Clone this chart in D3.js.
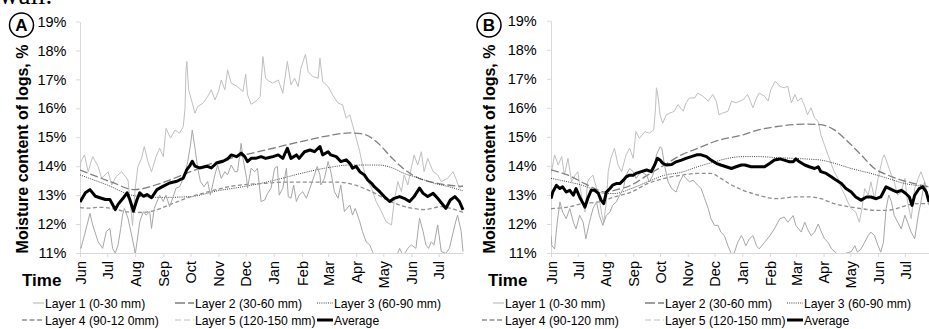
<!DOCTYPE html>
<html><head><meta charset="utf-8">
<script src="https://cdn.jsdelivr.net/npm/d3@7/dist/d3.min.js"></script>
<style>
body{margin:0;background:#fff;overflow:hidden;}
text{font-family:"Liberation Sans",Arial,sans-serif;fill:#000;}
</style></head><body>
<svg id="chart" width="929" height="329"></svg>
<script>
// ---------- DATA ----------
// Each series: [days since 1 June (year 1), moisture content %]
const startDate = new Date(2015, 5, 1);
const endDay = 423;
const yTicks = [11, 12, 13, 14, 15, 16, 17, 18, 19];
const seriesKeys = ["l1", "l2", "l3", "l4", "l5", "avg"];
const legendA = ["Layer 1 (0-30 mm)", "Layer 2 (30-60 mm)", "Layer 3 (60-90 mm)", "Layer 4 (90-12 0mm)", "Layer 5 (120-150 mm)", "Average"];
const legendB = ["Layer 1 (0-30 mm)", "Layer 2 (30-60 mm)", "Layer 3 (60-90 mm)", "Layer 4 (90-120 mm)", "Layer 5 (120-150 mm)", "Average"];
const panelLabels = ["A", "B"];
const yTitle = "Moisture content of logs, %";
const xTitle = "Time";

// Panel A
const a_layer1 = [[0,13.9],[1,14.16],[5,14.39],[9,13.81],[14,14.33],[20,13.99],[24,13.58],[31,13.81],[35,13.35],[40,13.64],[46,13.81],[53,13.52],[58,11.95],[61,13.24],[64,13.99],[68,14.27],[71,14.68],[75,14.16],[79,13.81],[84,14.33],[88,14.62],[92,14.33],[95,15.31],[100,14.97],[105,15.25],[110,15.14],[114,15.37],[116,16.0],[117,17.27],[118,17.62],[120,16.64],[124,16.18],[127,15.83],[130,16.06],[136,16.18],[141,16.41],[145,16.64],[149,16.29],[153,16.58],[156,16.98],[160,16.64],[163,17.33],[167,16.87],[174,16.75],[180,16.58],[183,17.18],[185,16.47],[189,16.14],[196,16.29],[199,16.41],[202,17.79],[205,17.04],[209,16.93],[213,16.87],[219,16.98],[224,16.52],[229,17.62],[233,16.81],[237,17.04],[241,16.75],[244,17.39],[249,17.87],[252,17.27],[257,17.1],[263,17.04],[265,17.73],[268,16.93],[274,16.75],[279,16.46],[285,16.18],[290,16.12],[294,15.66],[298,15.77],[301,15.43],[305,14.97],[309,14.5],[312,14.04],[316,13.58],[322,13.24],[327,12.78],[333,12.43],[338,12.08],[344,11.97],[347,12.78],[351,13.47],[355,13.12],[358,13.7],[362,13.35],[369,14.39],[373,14.04],[377,14.5],[380,13.81],[384,14.27],[390,13.81],[395,13.7],[399,13.47],[406,13.58],[412,13.81],[415,13.58],[419,13.24],[423,13.35]];
const a_layer2 = [[0,13.87],[35,13.45],[60,13.19],[89,13.41],[122,13.81],[152,14.16],[182,14.39],[213,14.62],[244,14.85],[274,15.05],[298,15.15],[314,15.1],[329,14.8],[344,14.3],[358,13.9],[373,13.6],[391,13.43],[406,13.35],[423,13.3]];
const a_layer3 = [[0,13.7],[30,13.35],[60,12.98],[90,12.92],[122,12.95],[152,13.15],[182,13.3],[213,13.5],[244,13.75],[274,13.95],[298,14.04],[329,14.04],[344,13.95],[358,13.75],[373,13.6],[391,13.41],[406,13.3],[423,13.15]];
const a_layer4 = [[0,12.57],[10,12.55],[22,12.58],[39,12.52],[52,12.42],[70,12.4],[85,12.5],[100,12.68],[118,12.9],[140,13.1],[166,13.3],[200,13.4],[230,13.45],[260,13.45],[285,13.45],[300,13.38],[320,13.15],[345,12.75],[366,12.55],[380,12.5],[399,12.6],[414,12.5],[423,12.4]];
const a_layer5 = [[0,11.2],[1,11.16],[5,11.62],[11,12.37],[14,11.97],[20,11.39],[25,11.16],[29,11.74],[33,11.85],[36,11.16],[39,10.99],[42,11.28],[45,11.85],[47,12.31],[49,12.54],[53,12.2],[57,11.62],[60,11.16],[61,10.95],[63,11.39],[66,12.08],[70,12.43],[73,12.31],[77,12.43],[79,11.85],[82,12.54],[88,13.0],[92,12.78],[95,13.0],[99,12.6],[103,12.95],[106,13.24],[110,13.29],[116,13.7],[119,14.16],[122,14.73],[124,15.25],[127,14.62],[130,13.93],[133,13.47],[137,13.29],[141,13.47],[144,13.0],[149,13.7],[152,14.04],[156,13.58],[160,13.81],[163,13.7],[167,14.04],[171,13.81],[174,13.81],[178,14.79],[180,14.27],[184,13.58],[185,13.24],[189,13.93],[193,13.81],[196,13.93],[200,12.78],[204,12.83],[207,13.05],[211,13.24],[215,13.93],[218,13.99],[220,13.0],[224,13.24],[228,13.93],[230,12.95],[233,12.89],[236,13.35],[239,12.78],[242,13.0],[246,13.12],[250,12.89],[254,13.24],[259,13.7],[262,13.99],[265,13.7],[266,13.35],[270,13.58],[274,14.16],[277,13.81],[281,13.12],[285,12.89],[288,13.35],[292,12.43],[298,12.66],[301,12.31],[304,12.54],[309,12.08],[312,11.74],[316,11.39],[320,11.28],[323,11.05],[327,10.8],[340,10.7],[349,10.85],[353,11.16],[357,10.9],[362,11.16],[366,11.28],[371,11.16],[375,12.2],[379,11.74],[382,11.28],[385,11.16],[388,11.39],[391,11.28],[395,11.97],[399,11.05],[404,10.99],[408,11.16],[414,11.97],[417,12.31],[421,11.74],[423,11.05]];
const a_average = [[0,12.76],[6,13.08],[11,13.19],[17,12.96],[22,12.91],[28,12.85],[33,12.85],[39,12.5],[42,12.68],[48,12.91],[52,13.08],[55,12.85],[59,12.45],[63,12.85],[66,13.08],[70,12.96],[74,13.02],[79,12.91],[85,13.19],[92,13.31],[99,13.42],[107,13.48],[114,13.59],[118,13.88],[121,14.0],[124,14.17],[127,14.0],[132,13.94],[140,14.0],[145,13.94],[151,14.11],[158,14.17],[163,14.25],[167,14.39],[173,14.33],[178,14.45],[182,14.33],[185,14.16],[189,14.27],[194,14.27],[200,14.33],[205,14.27],[209,14.3],[213,14.33],[219,14.39],[224,14.27],[229,14.62],[233,14.27],[239,14.39],[242,14.27],[248,14.5],[254,14.56],[259,14.5],[265,14.68],[268,14.39],[274,14.5],[277,14.39],[283,14.33],[288,14.16],[294,14.22],[298,14.1],[301,13.93],[305,13.99],[309,13.81],[314,13.7],[318,13.52],[322,13.41],[325,13.29],[331,13.12],[336,12.95],[342,12.78],[347,12.89],[353,12.95],[358,12.89],[364,12.78],[369,12.95],[375,13.24],[379,13.06],[384,12.95],[390,13.06],[395,12.89],[401,12.66],[404,12.54],[409,12.83],[414,12.95],[419,12.78],[423,12.49]];

// Panel B
const b_layer1 = [[0,13.7],[4,14.38],[8,14.03],[12,14.32],[15,13.68],[19,14.26],[23,13.45],[27,13.68],[30,13.8],[34,13.0],[38,12.41],[41,13.45],[43,13.57],[47,13.68],[51,13.22],[54,12.87],[57,12.3],[59,12.06],[62,12.76],[64,13.8],[67,14.26],[71,14.61],[75,14.03],[79,13.8],[84,14.38],[88,14.61],[92,14.26],[95,15.18],[99,14.95],[105,15.18],[110,15.13],[115,15.24],[117,16.0],[118,16.69],[120,16.34],[122,15.76],[125,15.47],[129,15.76],[133,15.82],[138,15.88],[142,16.11],[148,15.88],[151,16.17],[155,16.34],[161,16.34],[164,16.51],[170,16.4],[176,16.23],[181,16.46],[185,16.23],[188,15.76],[192,15.82],[198,15.88],[202,16.23],[207,16.17],[215,16.28],[220,16.46],[226,16.0],[230,16.34],[233,16.51],[239,16.4],[243,16.23],[246,16.63],[251,16.92],[256,16.74],[261,16.69],[265,16.74],[269,16.17],[273,16.46],[276,16.23],[280,16.34],[284,16.05],[287,15.76],[291,16.0],[295,15.65],[299,15.53],[302,15.07],[306,14.72],[310,14.38],[314,14.03],[317,13.8],[321,13.57],[325,13.22],[329,12.99],[332,12.76],[336,12.53],[341,12.41],[345,12.06],[348,12.53],[351,13.22],[355,12.99],[358,13.45],[362,12.87],[366,13.57],[371,14.26],[373,14.38],[377,14.03],[381,13.68],[384,13.45],[388,12.99],[392,13.1],[396,13.57],[399,12.76],[403,12.18],[407,13.22],[411,13.57],[414,13.8],[418,13.45],[423,12.76]];
const b_layer2 = [[0,13.86],[19,13.68],[34,13.45],[49,13.22],[60,13.1],[71,13.16],[90,13.34],[108,13.68],[127,14.03],[146,14.38],[164,14.6],[183,14.84],[215,15.07],[232,15.24],[254,15.36],[284,15.44],[302,15.42],[317,15.24],[332,14.84],[347,14.38],[362,13.91],[377,13.68],[392,13.51],[407,13.39],[423,13.28]];
const b_layer3 = [[0,13.57],[19,13.45],[34,13.34],[45,13.22],[60,13.05],[71,13.05],[90,13.22],[108,13.45],[127,13.68],[146,13.78],[164,13.97],[183,14.14],[198,14.26],[215,14.32],[232,14.32],[254,14.28],[271,14.26],[284,14.24],[302,14.2],[317,14.09],[336,13.91],[358,13.74],[377,13.57],[396,13.39],[411,13.32],[423,13.28]];
const b_layer4 = [[0,12.53],[19,12.58],[34,12.7],[53,12.76],[71,12.93],[90,13.1],[108,13.39],[127,13.57],[146,13.68],[164,13.74],[179,13.74],[190,13.57],[202,13.34],[215,13.16],[232,12.99],[254,12.87],[271,12.93],[290,12.93],[302,12.87],[317,12.7],[332,12.6],[347,12.53],[362,12.47],[377,12.47],[392,12.58],[407,12.7],[423,12.7]];
const b_layer5 = [[0,11.6],[1,11.25],[4,11.14],[7,12.06],[10,12.76],[13,12.41],[17,12.18],[21,12.53],[25,12.06],[28,11.83],[32,12.3],[36,12.06],[39,11.49],[43,12.06],[47,12.53],[51,12.76],[54,12.3],[58,11.95],[62,12.3],[66,12.41],[69,12.64],[73,12.76],[77,12.99],[81,13.22],[84,13.68],[88,13.91],[92,13.8],[95,13.57],[101,13.8],[107,13.68],[110,13.45],[114,13.68],[118,14.38],[122,14.66],[124,14.61],[127,14.03],[131,13.45],[135,13.22],[140,13.1],[144,13.45],[148,13.68],[151,13.57],[155,13.45],[159,13.51],[164,13.34],[168,13.22],[172,12.87],[176,12.53],[179,12.18],[183,11.95],[187,11.95],[190,11.72],[194,11.6],[198,11.25],[202,10.96],[205,11.0],[209,11.37],[213,11.6],[215,11.49],[218,11.25],[222,11.49],[226,11.6],[230,11.25],[233,11.14],[239,11.37],[245,11.6],[250,11.83],[256,12.18],[261,12.24],[265,12.06],[271,12.29],[274,11.95],[280,11.72],[284,12.06],[287,11.83],[291,11.6],[295,11.72],[299,12.0],[302,11.77],[306,11.49],[310,11.37],[314,11.14],[321,10.95],[329,10.98],[336,11.05],[340,11.25],[343,11.03],[347,11.14],[351,11.37],[355,11.6],[358,11.72],[362,11.6],[366,11.25],[369,11.03],[372,11.37],[375,12.53],[378,13.0],[381,12.76],[384,12.3],[388,12.06],[392,11.83],[396,12.3],[399,12.06],[403,11.72],[407,11.49],[411,12.3],[414,12.76],[418,13.45],[423,12.64]];
const b_average = [[0,12.87],[2,13.1],[6,13.33],[10,13.22],[13,13.28],[17,13.1],[21,13.16],[25,12.99],[28,13.22],[32,12.93],[36,12.7],[38,12.58],[41,12.87],[45,13.16],[49,13.16],[53,13.05],[56,12.82],[59,12.7],[62,13.1],[66,13.22],[69,13.34],[73,13.39],[77,13.39],[81,13.51],[84,13.62],[88,13.68],[92,13.68],[95,13.74],[101,13.8],[107,13.86],[112,13.8],[116,14.03],[119,14.26],[122,14.2],[125,14.09],[129,14.03],[135,14.05],[140,14.14],[146,14.2],[151,14.26],[157,14.32],[163,14.38],[168,14.38],[174,14.32],[179,14.2],[185,14.09],[190,14.03],[196,13.97],[202,13.91],[207,13.97],[213,14.03],[217,14.03],[224,13.97],[232,13.97],[239,13.97],[245,14.09],[250,14.2],[256,14.24],[261,14.2],[267,14.14],[271,14.14],[274,14.24],[278,14.14],[284,14.03],[289,13.97],[295,13.91],[299,13.97],[302,13.8],[308,13.74],[314,13.62],[319,13.51],[325,13.39],[330,13.22],[336,13.1],[341,12.93],[347,12.82],[353,12.93],[358,12.93],[364,12.87],[369,12.93],[375,13.28],[379,13.22],[383,13.16],[387,13.1],[392,13.16],[397,13.05],[401,12.93],[404,12.64],[407,12.99],[412,13.22],[416,13.28],[420,13.1],[423,12.76]];

// ---------- STYLE ----------
const styles = {
  l1:  {color:"#bfbfbf", width:1,   dash:null,    legDash:null,    legLen:10, curve:d3.curveLinear},
  l2:  {color:"#7f7f7f", width:1.3, dash:"8,3",   legDash:"10,3",  legLen:18, curve:d3.curveMonotoneX},
  l3:  {color:"#404040", width:1,   dash:"1,1.2", legDash:"1,1.2", legLen:15, curve:d3.curveMonotoneX},
  l4:  {color:"#8f8f8f", width:1.3, dash:"4,2.5", legDash:"5,2.5", legLen:21, curve:d3.curveMonotoneX},
  l5:  {color:"#a6a6a6", width:1,   dash:null,    legDash:"6,3",   legLen:18, curve:d3.curveLinear},
  avg: {color:"#000000", width:3,   dash:null,    legDash:null,    legLen:15, curve:d3.curveLinear}
};

const panels = [
  {label:panelLabels[0], x0:80,  x1:463, yTop:21.5, yBot:253, pad:9.5, titleX:28,  timeX:22,  circleX:21.5,
   legend:legendA, legendCols:[45,195,334],
   series:{l1:a_layer1,l2:a_layer2,l3:a_layer3,l4:a_layer4,l5:a_layer5,avg:a_average}},
  {label:panelLabels[1], x0:551, x1:929, yTop:20.7, yBot:253, pad:10.3, titleX:495, timeX:488, circleX:489,
   legend:legendB, legendCols:[505,665,804],
   series:{l1:b_layer1,l2:b_layer2,l3:b_layer3,l4:b_layer4,l5:b_layer5,avg:b_average}}
];

const svg = d3.select("#chart");

// text fragment from the page above (cut at the top edge, as in the reference)
svg.append("text").attr("x", -1).attr("y", 4).style("font-family", "'Liberation Serif',serif")
  .style("font-size", "27px").text("wall.");

const endDate = d3.timeDay.offset(startDate, endDay);

panels.forEach((p, pi) => {
  const x = d3.scaleTime().domain([startDate, endDate]).range([p.x0, p.x1]);
  const y = d3.scaleLinear().domain([11, 19]).range([p.yBot, p.yTop]);
  const g = svg.append("g");

  const cid = "clip" + pi;
  svg.append("clipPath").attr("id", cid).append("rect")
    .attr("x", p.x0).attr("y", p.yTop - 2).attr("width", p.x1 - p.x0 + 2).attr("height", p.yBot - p.yTop + 2);

  const ya = g.append("g").attr("transform", `translate(${p.x0},0)`)
    .call(d3.axisLeft(y).tickValues(yTicks).tickFormat(d => d + "%").tickSize(4).tickSizeOuter(0).tickPadding(p.pad));
  ya.select(".domain").attr("stroke", "#d9d9d9");
  ya.selectAll(".tick line").attr("stroke", "#d9d9d9");
  ya.selectAll("text").style("font-size", "14.5px").attr("fill", "#000");

  const xa = g.append("g").attr("transform", `translate(0,${p.yBot})`)
    .call(d3.axisBottom(x).ticks(d3.timeMonth.every(1)).tickFormat(d3.timeFormat("%b")).tickSize(4).tickSizeOuter(0));
  xa.select(".domain").attr("stroke", "#d9d9d9");
  xa.selectAll(".tick line").attr("stroke", "#d9d9d9");
  xa.selectAll("text").attr("transform", "rotate(-90)").attr("text-anchor", "end")
    .attr("x", -8).attr("y", 0).attr("dy", "0.36em").style("font-size", "14.5px").attr("fill", "#000");

  const lg = g.append("g").attr("clip-path", `url(#${cid})`);
  seriesKeys.forEach(k => {
    const st = styles[k];
    const line = d3.line().x(d => x(d3.timeDay.offset(startDate, d[0]))).y(d => y(d[1])).curve(st.curve);
    lg.append("path").datum(p.series[k]).attr("d", line).attr("fill", "none")
      .attr("stroke", st.color).attr("stroke-width", st.width)
      .attr("stroke-dasharray", st.dash).attr("stroke-linejoin", "round");
  });

  g.append("text").attr("transform", `translate(${p.titleX},149) rotate(-90)`).attr("text-anchor", "middle")
    .style("font-size", "16px").style("font-weight", "bold").text(yTitle);
  g.append("text").attr("x", p.timeX).attr("y", 286).style("font-size", "17px").style("font-weight", "bold").text(xTitle);
  g.append("circle").attr("cx", p.circleX).attr("cy", 25).attr("r", 12).attr("fill", "none").attr("stroke", "#000").attr("stroke-width", 1.5);
  g.append("text").attr("x", p.circleX).attr("y", 31).attr("text-anchor", "middle")
    .style("font-size", "17px").style("font-weight", "bold").text(p.label);

  const rows = [303, 320];
  seriesKeys.forEach((k, i) => {
    const st = styles[k];
    const tx = p.legendCols[i % 3];
    const ry = rows[Math.floor(i / 3)];
    g.append("line").attr("x1", tx - 2 - st.legLen).attr("x2", tx - 1).attr("y1", ry).attr("y2", ry)
      .attr("stroke", k === "l5" ? "#bfbfbf" : st.color).attr("stroke-width", st.width === 1 ? 1.2 : st.width)
      .attr("stroke-dasharray", st.legDash);
    g.append("text").attr("x", tx).attr("y", ry + 4.5).style("font-size", "12.2px").text(p.legend[i]);
  });
});
</script>
</body></html>
